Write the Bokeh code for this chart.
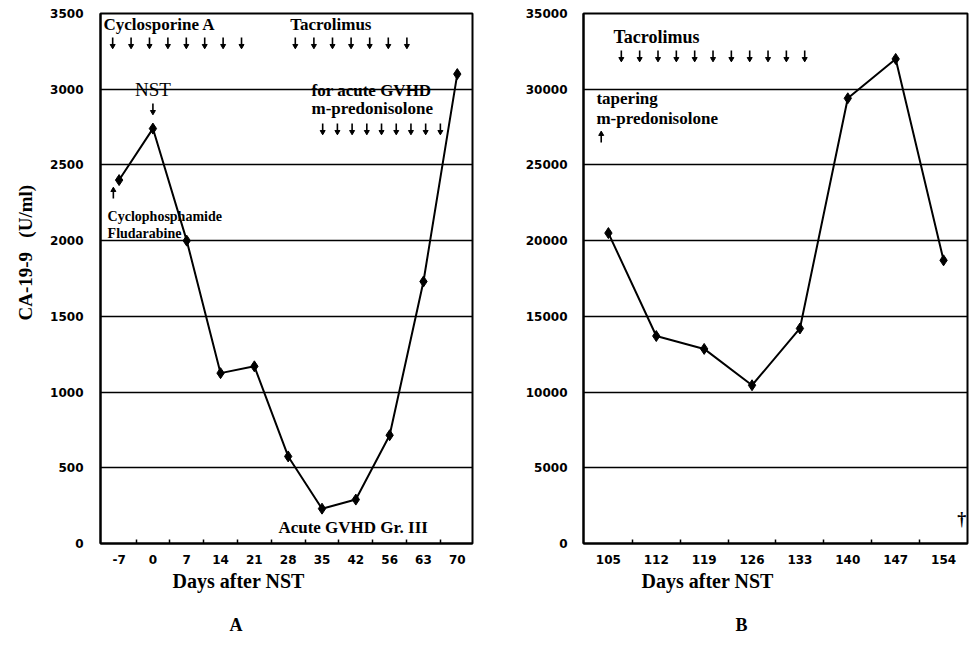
import numpy as np
from bokeh.plotting import figure
from bokeh.models import FixedTicker, Label, Range1d, Title
from bokeh.layouts import row
from bokeh.embed import file_html
from bokeh.resources import INLINE

# ---------------- data ----------------
days_a = ["-7", "0", "7", "14", "21", "28", "35", "42", "56", "63", "70"]
ca199_a = [2400, 2740, 2000, 1125, 1170, 575, 230, 290, 715, 1730, 3100]
days_b = ["105", "112", "119", "126", "133", "140", "147", "154"]
ca199_b = [20500, 13700, 12850, 10450, 14200, 29400, 32000, 18700]
yticks_a = list(range(0, 3501, 500))
yticks_b = list(range(0, 35001, 5000))

SERIF = "Liberation Serif"
SANS = "DejaVu Sans"
H = 653


def base_fig(width, xr, yr, mb_left, mb_right, yticks, xlabels):
    p = figure(width=width, height=H, x_range=Range1d(*xr), y_range=Range1d(*yr),
               output_backend="svg", toolbar_location=None,
               min_border_left=mb_left, min_border_right=mb_right,
               min_border_top=13, min_border_bottom=H - 543)
    p.background_fill_color = "white"
    p.border_fill_color = "white"
    p.outline_line_color = "black"
    p.outline_line_width = 2
    p.xgrid.visible = False
    p.ygrid.grid_line_color = "black"
    p.ygrid.grid_line_width = 1.5
    p.yaxis.ticker = FixedTicker(ticks=yticks)
    n = len(xlabels)
    p.xaxis.ticker = FixedTicker(ticks=list(range(n)),
                                 minor_ticks=[i + 0.5 for i in range(n - 1)])
    p.xaxis.major_label_overrides = {i: lab for i, lab in enumerate(xlabels)}
    for ax in (p.xaxis[0], p.yaxis[0]):
        ax.axis_line_color = "black"
        ax.axis_line_width = 2
        ax.major_tick_in = 0
        ax.major_tick_out = 0
        ax.major_label_text_font = SANS
        ax.major_label_text_font_style = "bold"
        ax.major_label_text_font_size = "12px"
        ax.major_label_text_color = "black"
    p.xaxis.minor_tick_in = 4
    p.xaxis.minor_tick_out = 0
    p.xaxis.minor_tick_line_color = "black"
    p.xaxis.minor_tick_line_width = 1.5
    p.yaxis.minor_tick_line_color = None
    p.xaxis.major_label_standoff = 11
    return p


def add_text(p, x, y, text, size, style="bold", align="left"):
    p.add_layout(Label(x=x, y=y, text=text, text_font=SERIF,
                       text_font_size=size, text_font_style=style, text_align=align,
                       text_baseline="middle", text_color="black"))


def add_title(p, text, side, size, offset, standoff):
    p.add_layout(Title(text=text, align="left", offset=offset, standoff=standoff,
                       text_font=SERIF, text_font_size=size, text_font_style="bold",
                       text_color="black"), side)


def add_arrows(p, xs, yc, unit, up=False):
    # unit = data units per pixel
    xs = list(xs)
    top = yc + 5 * unit
    bot = yc - 5 * unit
    p.segment(x0=xs, y0=[top] * len(xs), x1=xs, y1=[bot] * len(xs),
              line_color="black", line_width=1.6)
    if up:
        p.scatter(xs, [top - 1.5 * unit] * len(xs), marker="triangle", size=5, color="black")
    else:
        p.scatter(xs, [bot + 1.5 * unit] * len(xs), marker="inverted_triangle", size=5, color="black")


# ---------------- panel A ----------------
ua = 3500 / 530.0
pA = base_fig(522, (-0.55, 10.45), (0, 3500), 100, 50, yticks_a, days_a)
pA.yaxis.major_label_standoff = 17
xa = list(range(len(days_a)))
pA.line(xa, ca199_a, line_color="black", line_width=2)
pA.scatter(xa, ca199_a, marker="diamond", size=11, color="black")

add_text(pA, -0.46, 3427, "Cyclosporine A", "17px")
add_arrows(pA, np.linspace(-0.19, 3.62, 8), 3309, ua)
add_text(pA, 5.06, 3427, "Tacrolimus", "17px")
add_arrows(pA, np.linspace(5.21, 8.51, 7), 3309, ua)
add_text(pA, 1.0, 3000, "NST", "19px", style="normal", align="center")
add_arrows(pA, [1.0], 2873, ua)
add_text(pA, 5.69, 2992, "for acute GVHD", "17px")
add_text(pA, 5.69, 2873, "m-predonisolone", "17px")
add_arrows(pA, np.linspace(6.02, 9.5, 9), 2741, ua)
add_arrows(pA, [-0.17], 2311, ua, up=True)
add_text(pA, -0.34, 2159, "Cyclophosphamide", "14px")
add_text(pA, -0.34, 2047, "Fludarabine", "14px")
add_text(pA, 4.71, 106, "Acute GVHD Gr. III", "17px")
add_title(pA, "Days after NST", "below", "20px", 72, 3)
add_title(pA, "A", "below", "18px", 129, 38)
add_title(pA, "CA-19-9\u00a0\u00a0\u00a0(U/ml)", "left", "19px", 223, 24)

# ---------------- panel B ----------------
ub = 35000 / 530.0
pB = base_fig(448, (-0.52, 7.50), (0, 35000), 60, 3, yticks_b, days_b)
pB.yaxis.major_label_standoff = 16
xb = list(range(len(days_b)))
pB.line(xb, ca199_b, line_color="black", line_width=2)
pB.scatter(xb, ca199_b, marker="diamond", size=11, color="black")

add_text(pB, 0.105, 33480, "Tacrolimus", "18px")
add_arrows(pB, np.linspace(0.27, 4.1, 11), 32228, ub)
add_text(pB, -0.25, 29388, "tapering", "17px")
add_text(pB, -0.25, 28067, "m-predonisolone", "17px")
add_arrows(pB, [-0.15], 26812, ub, up=True)
add_text(pB, 7.38, 1585, "\u2020", "18px", align="center")
add_title(pB, "Days after NST", "below", "20px", 58, 3)
add_title(pB, "B", "below", "18px", 152, 38)

layout = row(pA, pB)
open("out.html", "w").write(file_html(layout, INLINE))
